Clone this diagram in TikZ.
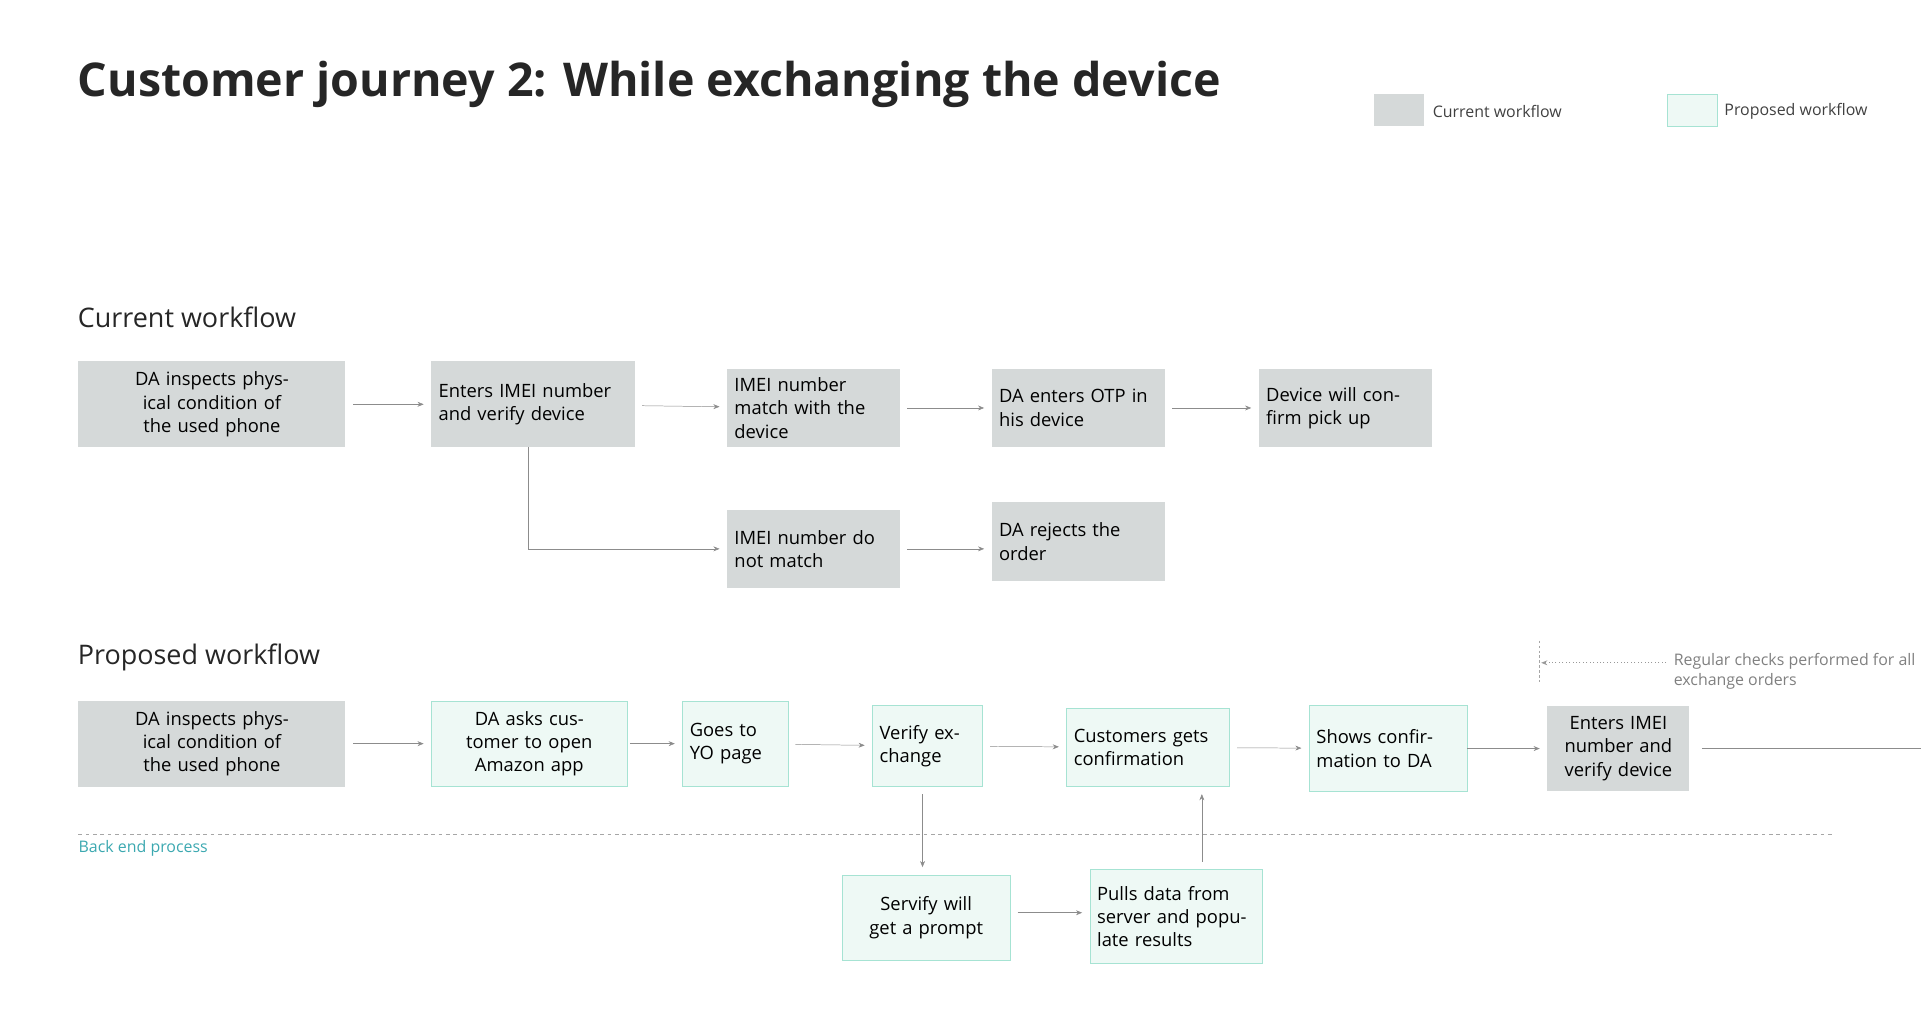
\documentclass[tikz,border=0pt]{standalone}
\usepackage{fontspec}
\setmainfont{Open Sans}
\usepackage{tikz}
\usetikzlibrary{positioning,arrows.meta}
\definecolor{curfill}{HTML}{D5D9D9}
\definecolor{propfill}{HTML}{EEF9F5}
\definecolor{propdraw}{HTML}{A6E3D3}
\definecolor{teal}{HTML}{3BA8B0}
\begin{document}
\begin{tikzpicture}[x=1pt,y=-1pt,
		curnode/.style={rectangle, fill=curfill, inner sep=6pt, font=\fontsize{15}{19}\selectfont},
		propnode/.style={rectangle, fill=propfill, draw=propdraw, inner sep=6pt, font=\fontsize{15}{19}\selectfont},
		path/.style={draw=black!45, thin, -{Stealth[length=5pt,width=4pt]}, shorten >=6pt, shorten <=6pt},
		heading/.style={anchor=west, font=\fontsize{22}{26}\selectfont, text=black!85}
		]
		\useasboundingbox (0,0) rectangle (1568,826);

		% Title and legend
		\node[anchor=west, font=\fontsize{38}{44}\selectfont\bfseries, text=black!85] (title) at (60,69) {Customer journey 2: While exchanging the device};
		\node[fill=curfill, minimum width=41pt, minimum height=26pt] (legcur) at (1142,90) {};
		\node[anchor=west, font=\fontsize{13}{15}\selectfont, text=black!75] (legcurtext) at (1166,91) {Current workflow};
		\node[fill=propfill, draw=propdraw, minimum width=41pt, minimum height=26pt] (legprop) at (1381,90) {};
		\node[anchor=west, font=\fontsize{13}{15}\selectfont, text=black!75] (legproptext) at (1404,91) {Proposed workflow};

		% Current workflow
		\node[heading] (curhead) at (60,259) {Current workflow};
		\node[curnode, minimum width=218pt, minimum height=70pt, text width=160pt, align=center] (Inspect) at (173,330) {DA inspects physical condition of the used phone};
		\node[curnode, minimum width=166pt, minimum height=70pt, text width=154pt, align=left] (EnterImei) at (435,330) {Enters IMEI number and verify device};
		\node[curnode, minimum width=141pt, minimum height=63pt, text width=129pt, align=left] (Match) at (664,333) {IMEI number match with the device};
		\node[curnode, minimum width=141pt, minimum height=63pt, text width=129pt, align=left] (Otp) at (880,333) {DA enters OTP in his device};
		\node[curnode, minimum width=141pt, minimum height=63pt, text width=129pt, align=left] (Confirm) at (1098,333) {Device will confirm pick up};
		\node[curnode, minimum width=141pt, minimum height=64pt, text width=129pt, align=left] (NoMatch) at (664,448) {IMEI number do not match};
		\node[curnode, minimum width=141pt, minimum height=64pt, text width=129pt, align=left] (Reject) at (880,442) {DA rejects the order};

		\path[path] (Inspect) -- (EnterImei);
		\path[path] (EnterImei) -- (Match);
		\path[path] (Match) -- (Otp);
		\path[path] (Otp) -- (Confirm);
		\path[path, shorten <=0pt] (EnterImei.south -| 431,0) |- (NoMatch.west);
		\path[path] (NoMatch.east) -- (Reject.west |- NoMatch.east);

		% Proposed workflow
		\node[heading] (prophead) at (60,537) {Proposed workflow};
		\node[curnode, minimum width=218pt, minimum height=70pt, text width=160pt, align=center] (PInspect) at (173,607) {DA inspects physical condition of the used phone};
		\node[propnode, minimum width=160pt, minimum height=70pt, text width=140pt, align=center] (AskApp) at (432,607) {DA asks customer to open Amazon app};
		\node[propnode, minimum width=86pt, minimum height=70pt, text width=74pt, align=left] (YoPage) at (600,607) {Goes to YO page};
		\node[propnode, minimum width=90pt, minimum height=66pt, text width=78pt, align=left] (Verify) at (757,609) {Verify exchange};
		\node[propnode, minimum width=133pt, minimum height=64pt, text width=121pt, align=left] (Customers) at (937,610) {Customers gets confirmation};
		\node[propnode, minimum width=129pt, minimum height=70pt, text width=117pt, align=left] (Shows) at (1133,611) {Shows confirmation to DA};
		\node[curnode, minimum width=116pt, minimum height=70pt, text width=104pt, align=center] (PEnterImei) at (1321,611) {Enters IMEI number and verify device};
		\coordinate (RightEnd) at (1568,611);

		\path[path] (PInspect) -- (AskApp);
		\path[path, shorten <=2pt] (AskApp) -- (YoPage);
		\path[path] (YoPage) -- (Verify);
		\path[path] (Verify) -- (Customers);
		\path[path] (Customers) -- (Shows);
		\path[path, shorten <=0pt] (Shows) -- (PEnterImei);
		\draw[black!45, thin, shorten <=10pt] (PEnterImei.east) -- (RightEnd);

		% Back end
		\coordinate (SepL) at (64,681);
		\coordinate (SepR) at (1495,681);
		\draw[black!35, dashed, dash pattern=on 3pt off 3pt] (SepL) -- (SepR);
		\node[anchor=north west, inner sep=0pt, font=\fontsize{13}{15}\selectfont, text=teal] (backend) at (64,686) {Back end process};
		\node[propnode, minimum width=137pt, minimum height=70pt, text width=125pt, align=center] (Servify) at (756,749) {Servify will get a prompt};
		\node[propnode, minimum width=141pt, minimum height=77pt, text width=129pt, align=left] (Pulls) at (960,748) {Pulls data from server and populate results};

		\path[path] (Verify.south -| 753,0) -- (Servify.north -| 753,0);
		\path[path] (Servify.east |- 0,745) -- (Pulls.west |- 0,745);
		\path[path] (Pulls.north -| 981,0) -- (Customers.south -| 981,0);

		% Annotation
		\coordinate (NoteTop) at (1256,523);
		\coordinate (NoteBot) at (1256,557);
		\coordinate (NoteStart) at (1360,541);
		\draw[black!35, dashed, dash pattern=on 2pt off 2pt] (NoteTop) -- (NoteBot);
		\draw[black!40, dotted, thick, -{Stealth[length=5pt,width=4pt]}] (NoteStart) -- (1258,541);
		\node[anchor=west, align=left, inner sep=0pt, font=\fontsize{13}{16}\selectfont, text=black!50] (note) at (1366,548) {Regular checks performed for all\\exchange orders};
\end{tikzpicture}
\end{document}
